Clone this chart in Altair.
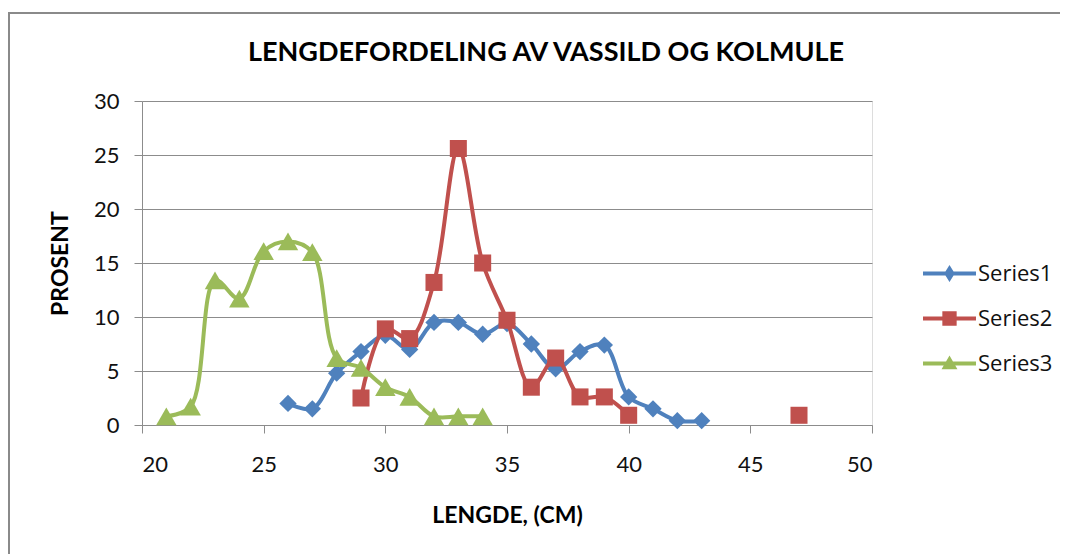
import altair as alt
import pandas as pd

# ---- data ----
series_names = ["Series1", "Series2", "Series3"]

lengde1 = [26, 27, 28, 29, 30, 31, 32, 33, 34, 35, 36, 37, 38, 39, 40, 41, 42, 43]
prosent1 = [2.0, 1.5, 4.8, 6.8, 8.3, 7.0, 9.5, 9.5, 8.4, 9.4, 7.5, 5.2, 6.8, 7.4, 2.6, 1.5, 0.4, 0.4]

lengde2 = [29, 30, 31, 32, 33, 34, 35, 36, 37, 38, 39, 40, 47]
prosent2 = [2.5, 8.9, 8.0, 13.2, 25.6, 15.0, 9.7, 3.5, 6.2, 2.6, 2.6, 0.9, 0.9]
segment2 = [0, 0, 0, 0, 0, 0, 0, 0, 0, 0, 0, 0, 1]  # gap in the data between 40 and 47

lengde3 = [21, 22, 23, 24, 25, 26, 27, 28, 29, 30, 31, 32, 33, 34]
prosent3 = [0.8, 1.7, 13.4, 11.7, 16.1, 17.0, 16.0, 6.2, 5.3, 3.5, 2.6, 0.8, 0.8, 0.8]

x_ticks = [20, 25, 30, 35, 40, 45, 50]
y_ticks = [0, 5, 10, 15, 20, 25, 30]

colors = ["#4F81BD", "#C0504D", "#9BBB59"]
shapes = ["diamond", "square", "triangle-up"]

# legend symbols: a line with the marker on it
legend_paths = [
    "M-1,-0.075L1,-0.075L1,0.075L-1,0.075Z M0,-0.32L0.2,0L0,0.32L-0.2,0Z",
    "M-1,-0.075L1,-0.075L1,0.075L-1,0.075Z M-0.27,-0.27L0.27,-0.27L0.27,0.27L-0.27,0.27Z",
    "M-1,-0.075L1,-0.075L1,0.075L-1,0.075Z M0,-0.3L0.3,0.22L-0.3,0.22Z",
]

rows = []
for x, y in zip(lengde1, prosent1):
    rows.append({"serie": "Series1", "lengde": x, "prosent": y, "seg": 0})
for x, y, s in zip(lengde2, prosent2, segment2):
    rows.append({"serie": "Series2", "lengde": x, "prosent": y, "seg": s})
for x, y in zip(lengde3, prosent3):
    rows.append({"serie": "Series3", "lengde": x, "prosent": y, "seg": 0})
df = pd.DataFrame(rows)

FONT = "Lato"
GRID = "#8c8c8c"

x_enc = alt.X(
    "lengde:Q",
    scale=alt.Scale(domain=[20, 50], nice=False, zero=False),
    axis=alt.Axis(
        values=x_ticks, title="LENGDE, (CM)", grid=False,
        tickSize=8, tickColor=GRID, domainColor=GRID, labelPadding=21,
        labelFont=FONT, labelFontSize=22, labelColor="#111",
        titleFont=FONT, titleFontSize=23, titleFontWeight="bold", titleColor="#000",
        titlePadding=29,
    ),
)
y_enc = alt.Y(
    "prosent:Q",
    scale=alt.Scale(domain=[0, 30], nice=False),
    axis=alt.Axis(
        values=y_ticks, title="PROSENT", grid=True, gridColor=GRID,
        tickSize=8, tickColor=GRID, domainColor=GRID, labelPadding=15,
        labelFont=FONT, labelFontSize=22, labelColor="#111",
        titleFont=FONT, titleFontSize=23, titleFontWeight="bold", titleColor="#000",
        titlePadding=21,
    ),
)
color_scale = alt.Scale(domain=series_names, range=colors)
shape_scale = alt.Scale(domain=series_names, range=shapes)

base = alt.Chart(df)
frame_data = pd.DataFrame({"b": [0]})

layers = []
# chart frame: top and left edges (the rest lies outside the picture)
frame_left = alt.Chart(frame_data).mark_rule(stroke="#8a8a8a", strokeWidth=2).encode(
    x=alt.value(-133), y=alt.value(-88), y2=alt.value(470)
)
frame_top = alt.Chart(frame_data).mark_rule(stroke="#8a8a8a", strokeWidth=2).encode(
    x=alt.value(-134), x2=alt.value(940), y=alt.value(-88)
)
layers += [frame_left, frame_top]

sizes = {"Series1": 300, "Series2": 290, "Series3": 420}
for name in series_names:
    sub = base.transform_filter(alt.datum.serie == name)
    line = sub.mark_line(strokeWidth=4, interpolate="catmull-rom").encode(
        x=x_enc, y=y_enc,
        color=alt.Color("serie:N", scale=color_scale, legend=None),
        detail="seg:N",
    )
    pts = sub.mark_point(filled=True, opacity=1, size=sizes[name], strokeWidth=0).encode(
        x=x_enc, y=y_enc,
        color=alt.Color("serie:N", scale=color_scale, legend=None),
        shape=alt.Shape("serie:N", scale=shape_scale, legend=None),
    )
    layers += [line, pts]

legend_props = dict(
    title=None, orient="none", legendX=781, legendY=146,
    symbolSize=53 * 53, symbolOpacity=1, symbolStrokeWidth=0,
    labelFont="Open Sans", labelFontSize=22, labelColor="#111",
    labelOffset=2, rowPadding=7, padding=0,
)
legend_layer = base.mark_point(filled=True, opacity=0).encode(
    x=x_enc, y=y_enc,
    color=alt.Color("serie:N", scale=color_scale, legend=alt.Legend(**legend_props)),
    shape=alt.Shape(
        "serie:N", scale=alt.Scale(domain=series_names, range=legend_paths),
        legend=alt.Legend(**legend_props),
    ),
)
layers.append(legend_layer)

chart = alt.layer(*layers).resolve_scale(
    color="independent", shape="independent"
).properties(
    width=730,
    height=324,
    autosize=alt.AutoSizeParams(type="none"),
    padding={"left": 134, "top": 93, "right": 188, "bottom": 131},
    title=alt.TitleParams(
        "LENGDEFORDELING AV VASSILD OG KOLMULE",
        font=FONT, fontSize=27, fontWeight="bold", color="#000",
        anchor="middle", dx=39, dy=55, offset=0,
    ),
).configure_view(stroke=None).configure(background="white")

chart.save("out.html", embed_options={"renderer": "svg", "actions": False})
